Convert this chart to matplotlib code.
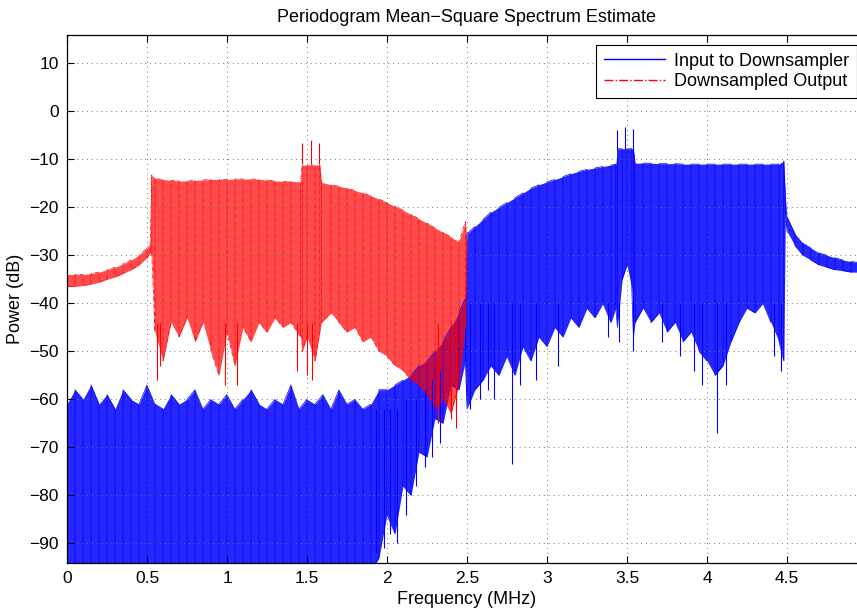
import numpy as np
import matplotlib.pyplot as plt

plt.rcParams['font.family'] = ['Liberation Sans', 'DejaVu Sans']

# Input to downsampler: frequency (MHz), top and bottom of the spectrum band (dB)
in_freq = [0.00, 0.05, 0.10, 0.15, 0.20, 0.25, 0.30, 0.35, 0.40, 0.45,
           0.50, 0.55, 0.60, 0.65, 0.70, 0.75, 0.80, 0.85, 0.90, 0.95,
           1.00, 1.05, 1.10, 1.15, 1.20, 1.25, 1.30, 1.35, 1.40, 1.45,
           1.50, 1.55, 1.60, 1.65, 1.70, 1.75, 1.80, 1.85, 1.90,
           1.95, 2.00, 2.05, 2.10, 2.15, 2.20, 2.25, 2.30, 2.35, 2.40, 2.45, 2.49,
           2.50, 2.55, 2.60, 2.65, 2.70, 2.75, 2.80, 2.85, 2.90, 2.95,
           3.00, 3.05, 3.10, 3.15, 3.20, 3.25, 3.30, 3.35, 3.40, 3.43,
           3.44, 3.47, 3.50, 3.53, 3.54,
           3.55, 3.60, 3.65, 3.70, 3.75, 3.80, 3.85, 3.90, 3.95, 4.00,
           4.05, 4.10, 4.15, 4.20, 4.25, 4.30, 4.35, 4.40, 4.45, 4.48,
           4.49, 4.50, 4.55, 4.60, 4.65, 4.70, 4.75, 4.80, 4.85, 4.90, 4.95, 5.00]
in_top = [-61, -58, -60, -57, -61, -59, -62, -58, -60, -61,
          -57, -61, -62, -59, -61, -60, -58, -62, -60, -61,
          -59, -62, -60, -58, -61, -62, -60, -61, -57, -62,
          -60, -61, -59, -62, -58, -61, -60, -62, -61,
          -58, -58, -57, -56, -55, -53, -52, -50, -48, -45, -42, -39,
          -25.5, -24, -22.5, -21, -20, -19, -18, -17, -16, -15.3,
          -14.7, -14.2, -13.6, -13, -12.5, -12.1, -11.8, -11.5, -11.2, -11,
          -7.8, -7.8, -7.8, -7.8, -7.8,
          -10.8, -10.8, -10.8, -10.9, -10.9, -10.9, -11, -11, -11, -11,
          -11, -11, -11, -11, -11, -11, -11, -11, -11, -10.3,
          -18, -22, -25.5, -27.5, -28.5, -29.5, -30, -30.5, -31, -31.3, -31.5, -31.7]
in_bot = [-100, -100, -100, -100, -100, -100, -100, -100, -100, -100,
          -100, -100, -100, -100, -100, -100, -100, -100, -100, -100,
          -100, -100, -100, -100, -100, -100, -100, -100, -100, -100,
          -100, -100, -100, -100, -100, -100, -100, -100, -96,
          -93, -84, -88, -78, -80, -71, -72, -64, -65, -57, -58, -52,
          -62, -58, -56, -53, -55, -51, -55, -49, -52, -47,
          -49, -45, -47, -43, -45, -41, -43, -40, -44, -41,
          -45, -35, -32, -37, -47,
          -44, -41, -44, -42, -46, -44, -48, -46, -50, -52,
          -55, -53, -48, -44, -41, -42, -40, -44, -48, -52,
          -21, -25, -28, -30, -31, -32, -32.5, -33, -33.2, -33.5, -33.5, -33.6]
# isolated deep nulls and tone peaks of the input
in_dip_freq = [1.93, 1.98, 2.02, 2.06, 2.12, 2.18, 2.24, 2.28, 2.33,
               2.52, 2.58, 2.63, 2.67, 2.78, 2.83, 2.93, 3.07, 3.38, 3.45,
               3.54, 3.72, 3.83, 3.92, 3.97, 4.06, 4.12, 4.42, 4.46]
in_dip_from = [-62, -62, -62, -62, -60, -60, -58, -56, -54,
               -40, -40, -40, -40, -40, -40, -40, -40, -40, -40,
               -40, -40, -40, -40, -40, -40, -40, -40, -40]
in_dip_db = [-92, -91, -88, -90, -84, -78, -74, -72, -69,
             -62, -60, -58, -60, -73.5, -57, -56, -53, -47, -48,
             -50, -48, -51, -54, -57, -67, -57, -51, -54]
in_peak_freq = [3.44, 3.49, 3.54]
in_peak_db = [-3.8, -3.3, -3.6]

# Downsampled output
out_freq = [0.00, 0.05, 0.10, 0.15, 0.20, 0.25, 0.30, 0.35, 0.40, 0.45, 0.50, 0.52,
            0.53, 0.55, 0.60, 0.65, 0.70, 0.75, 0.80, 0.85, 0.90, 0.95,
            1.00, 1.05, 1.10, 1.15, 1.20, 1.25, 1.30, 1.35, 1.40, 1.46,
            1.47, 1.50, 1.55, 1.58, 1.59, 1.65, 1.70, 1.75, 1.80, 1.85, 1.90, 1.95,
            2.00, 2.05, 2.10, 2.15, 2.20, 2.25, 2.30, 2.35, 2.40, 2.45, 2.49, 2.50]
out_top = [-34, -34, -34, -33.8, -33.5, -33, -32.5, -31.8, -31, -30, -28.5, -27.5,
           -13.3, -14, -14.2, -14.4, -14.5, -14.5, -14.4, -14.3, -14.2, -14.2,
           -14.2, -14.1, -14.1, -14.1, -14.2, -14.3, -14.5, -14.6, -14.6, -14.7,
           -11.2, -11.2, -11.2, -11.2, -14.8, -15.3, -15.6, -16, -16.5, -17, -17.6, -18.3,
           -19, -19.8, -20.6, -21.5, -22.4, -23.3, -24.3, -25.2, -26.2, -27.2, -23, -27]
out_bot = [-36.5, -36.5, -36.3, -36, -35.6, -35, -34.5, -33.8, -33, -32, -30.5, -29.5,
           -30, -46, -52, -44, -47, -43, -48, -44, -50, -55,
           -46, -53, -45, -48, -44, -46, -43, -45, -44, -47,
           -50, -47, -52, -46, -44, -42, -44, -46, -45, -48, -47, -50,
           -51, -53, -54, -56, -57, -59, -62, -60, -63, -57, -45, -30]
out_dip_freq = [0.56, 0.58, 0.99, 1.06, 1.44, 1.50, 1.53, 2.32, 2.40, 2.43]
out_dip_db = [-56, -53, -57, -57, -54, -55, -56, -65, -64, -66]
out_peak_freq = [1.47, 1.525, 1.575]
out_peak_db = [-6.6, -6.0, -6.6]


def draw_band(ax, f, top, bot, color, ls, label, fill_alpha):
    f = np.asarray(f, dtype=float)
    top = np.asarray(top, dtype=float)
    bot = np.asarray(bot, dtype=float)
    ax.fill_between(f, bot, top, color=color, alpha=fill_alpha, lw=0)
    # zig-zag trace: top -> bottom -> bottom -> top ...
    upper_first = (np.arange(len(f)) % 2 == 0)
    y1 = np.where(upper_first, top, bot)
    y2 = np.where(upper_first, bot, top)
    x = np.repeat(f, 2)
    y = np.column_stack([y1, y2]).ravel()
    ax.plot(x, y, color=color, ls=ls, lw=0.5, label=label)


fig = plt.figure(figsize=(8.57, 6.14), dpi=100)
ax = fig.add_axes([67 / 857, 51 / 614, 800 / 857, 528 / 614])

draw_band(ax, in_freq, in_top, in_bot, 'blue', '-', 'Input to Downsampler', 0.85)
ax.vlines(in_dip_freq, in_dip_from, in_dip_db, color='blue', lw=0.8)
ax.vlines(in_peak_freq, -8, in_peak_db, color='blue', lw=0.8)

draw_band(ax, out_freq, out_top, out_bot, 'red', '-.', 'Downsampled Output', 0.7)
ax.vlines(out_dip_freq, -44, out_dip_db, color='red', lw=0.8)
ax.vlines(out_peak_freq, -11, out_peak_db, color='red', lw=0.8)

ax.set_xlim(0, 5)
ax.set_ylim(-94.1, 15.9)
ax.set_xticks(np.arange(0, 5, 0.5))
ax.set_xticklabels(['0', '0.5', '1', '1.5', '2', '2.5', '3', '3.5', '4', '4.5'])
ax.set_yticks(np.arange(-90, 11, 10))
ax.tick_params(direction='in', length=5, width=0.8, labelsize=12.5,
               top=True, right=True, pad=6)
ax.grid(True, color='0.45', ls=(0, (1, 4)), lw=0.7)
for s in ax.spines.values():
    s.set_linewidth(0.9)

ax.set_title('Periodogram Mean\u2212Square Spectrum Estimate', fontsize=13, pad=9)
ax.set_xlabel('Frequency (MHz)', fontsize=13, labelpad=3)
ax.set_ylabel('Power (dB)', fontsize=13, labelpad=4)

leg = ax.legend(loc='upper right', fontsize=13, frameon=True, fancybox=False,
                edgecolor='black', framealpha=1, borderaxespad=0.55,
                handlelength=3.4, handletextpad=0.5, labelspacing=0.2,
                borderpad=0.42)
leg.get_frame().set_linewidth(0.8)
for h in leg.get_lines():
    h.set_linewidth(1.0)

fig.savefig('out.png', dpi=100)
